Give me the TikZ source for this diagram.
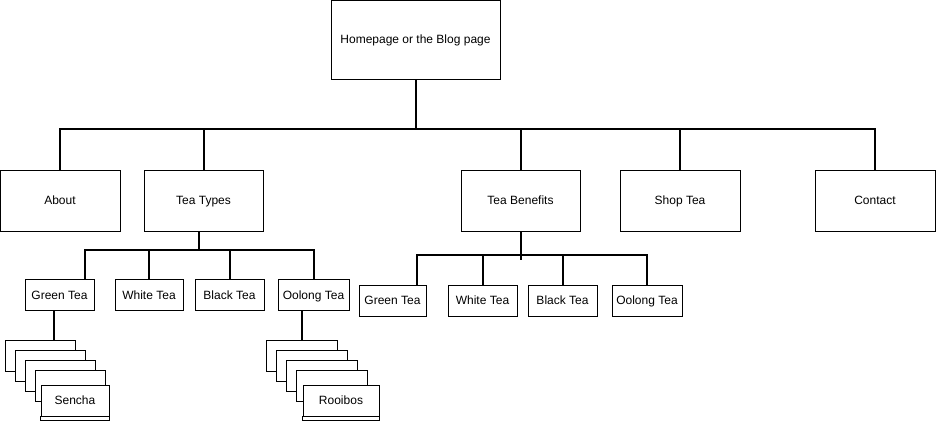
\documentclass[tikz,border=0pt]{standalone}
\usepackage{fontspec}
\setmainfont{Liberation Sans}
\usetikzlibrary{positioning,calc}

\begin{document}
\begin{tikzpicture}[x=1pt,y=-1pt,
    every node/.style={draw,rectangle,line width=0.8pt,inner sep=0pt,
      text height=9pt,text depth=0.5pt,font=\fontsize{12}{14}\selectfont},
    pagebox/.style={minimum width=120pt,minimum height=61pt},
    teabox/.style={minimum height=31pt},
    card/.style={fill=white,minimum width=70.5pt,minimum height=31pt},
    boxline/.style={line width=0.8pt},
    conn/.style={line width=2pt}
  ]
  \useasboundingbox (0,0) rectangle (936,421);

  % the top page
  \node[minimum width=169pt,minimum height=79pt] (home) at (415.5,39.5) {Homepage or the Blog page};

  % the main pages
  \node[pagebox] (about) at (60,200.5) {About};
  \node[pagebox,minimum width=119pt] (types) at (203.5,200.5) {Tea Types};
  \node[pagebox,minimum width=119pt] (benefits) at (520.5,200.5) {Tea Benefits};
  \node[pagebox] (shop) at (680,200.5) {Shop Tea};
  \node[pagebox] (contact) at (875,200.5) {Contact};

  % the tea types
  \node[teabox,minimum width=69pt] (gtea) at (59.5,295) {Green Tea};
  \node[teabox,minimum width=68pt] (wtea) at (149,295) {White Tea};
  \node[teabox,minimum width=69pt] (btea) at (229.5,295) {Black Tea};
  \node[teabox,minimum width=71pt] (otea) at (313.5,295) {Oolong Tea};

  % the tea benefits
  \node[teabox,minimum width=67pt] (gben) at (392.5,300.5) {Green Tea};
  \node[teabox,minimum width=69pt] (wben) at (482.5,300.5) {White Tea};
  \node[teabox,minimum width=69pt] (bben) at (562.5,300.5) {Black Tea};
  \node[teabox,minimum width=70pt] (oben) at (647,300.5) {Oolong Tea};

  % the stacked cards
  \foreach \i in {1,...,4} {
    \node[card] (gs\i) at ({30.5+10*\i},{345.5+10*\i}) {};
    \node[card] (rs\i) at ({292+10*\i},{345.5+10*\i}) {};
  }
  \node[card,minimum width=68pt] (sen) at (75,400.5) {Sencha};
  \node[card,minimum width=76pt] (roo) at (341,400.5) {Rooibos};
  \draw[boxline] (sen.south west) -- ++(0,4) -| (sen.south east);
  \draw[boxline] (roo.south west) -- ++(0,4) -| (roo.south east);

  % the buses
  \coordinate (hbus) at (415.5,129);
  \coordinate (tbus) at (199,250);
  \coordinate (bbus) at (520.5,255);
  \coordinate (gdrop) at (54,340);

  % the edges
  \draw[conn] (home.south) -- (hbus);
  \foreach \n in {about,types,benefits,shop,contact}
    \draw[conn] (\n.north) |- (hbus);
  \draw[conn] (tbus |- types.south) -- (tbus);
  \draw[conn] ([xshift=25pt]gtea.north) |- (tbus);
  \foreach \n in {wtea,btea,otea}
    \draw[conn] (\n.north) |- (tbus);
  \draw[conn] (benefits.south) -- ([yshift=-5pt]bbus);
  \draw[conn] ([xshift=24.5pt]gben.north) |- (bbus);
  \foreach \n in {wben,bben,oben}
    \draw[conn] (\n.north) |- (bbus);
  \draw[conn] (gdrop |- gtea.south) -- (gdrop);
  \draw[conn] (rs1.north |- otea.south) -- (rs1.north);
\end{tikzpicture}
\end{document}
